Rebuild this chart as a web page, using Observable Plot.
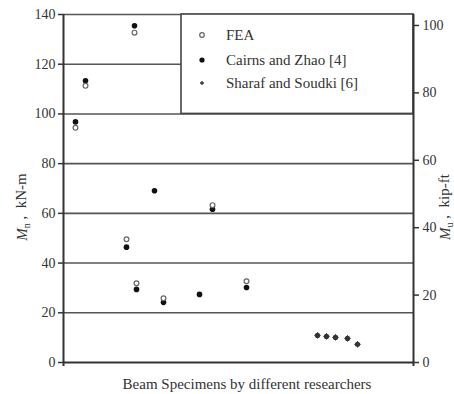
<!DOCTYPE html>
<html>
<head>
<meta charset="utf-8">
<script src="https://cdn.jsdelivr.net/npm/d3@7"></script>
<script src="https://cdn.jsdelivr.net/npm/@observablehq/plot@0.6"></script>
<style>
  html, body { margin: 0; padding: 0; background: white; }
  #chart { width: 454px; height: 394px; overflow: hidden; }
</style>
</head>
<body>
<div id="chart"></div>
<script>
// Specimen position along the x axis (unitless ordering) and moment values in kN-m
const feaX = [1.2, 2.2, 7.1, 6.3, 7.3, 10.0, 14.9, 18.3];
const feaM = [94.4, 111.3, 132.7, 49.6, 31.9, 25.8, 63.3, 32.7];
const cairnsX = [1.2, 2.2, 7.1, 6.3, 7.3, 9.1, 10.0, 13.6, 14.9, 18.3];
const cairnsM = [96.8, 113.3, 135.5, 46.4, 29.4, 69.1, 24.2, 27.4, 61.7, 30.2];
const sharafX = [25.4, 26.3, 27.2, 28.4, 29.4];
const sharafM = [10.9, 10.5, 10.1, 9.7, 7.3];

const leftTicks = [0, 20, 40, 60, 80, 100, 120, 140];   // kN-m
const rightTicks = [0, 20, 40, 60, 80, 100];             // kip-ft
const gridLines = [20, 40, 60, 80, 100, 140];
const legendLabels = ["FEA", "Cairns and Zhao [4]", "Sharaf and Soudki [6]"];
const KIPFT = 1.35582; // kN-m per kip-ft

const fea = feaX.map((x, i) => ({x, m: feaM[i]}));
const cairns = cairnsX.map((x, i) => ({x, m: cairnsM[i]}));
const sharaf = sharafX.map((x, i) => ({x, m: sharafM[i]}));

const serif = '"Liberation Serif", "Times New Roman", serif';
const ink = "#333";

const chart = Plot.plot({
  width: 454,
  height: 394,
  marginLeft: 63,
  marginRight: 41,
  marginTop: 14,
  marginBottom: 32,
  style: {fontFamily: serif, fontSize: "14px", color: ink, background: "white", overflow: "visible"},
  x: {domain: [0, 35], axis: null},
  y: {domain: [0, 140], axis: null},
  marks: [
    Plot.ruleY(gridLines, {stroke: "#555", strokeWidth: 1.6}),
    Plot.ruleY([120], {x1: 0, x2: 11.8, stroke: "#555", strokeWidth: 1.4}),
    Plot.rect([0], {x1: 11.8, x2: 35, y1: 100, y2: 140, fill: "white", stroke: "#444", strokeWidth: 1.6}),
    Plot.axisY({anchor: "left", ticks: leftTicks, tickSize: 5, tickPadding: 3, label: null, strokeWidth: 1.5, fontSize: 14}),
    Plot.axisY({anchor: "right", ticks: rightTicks.map(k => k * KIPFT), tickFormat: d => Math.round(d / KIPFT),
      tickSize: 5, tickPadding: 4, label: null, strokeWidth: 1.5, fontSize: 14}),
    Plot.ruleX([0, 35], {stroke: ink, strokeWidth: 2, insetBottom: -4}),
    Plot.ruleY([0], {stroke: ink, strokeWidth: 2}),
    Plot.dot(cairns, {x: "x", y: "m", r: 2.8, fill: "#111", stroke: "none"}),
    Plot.dot(fea, {x: "x", y: "m", r: 2.4, fill: "white", stroke: "#666", strokeWidth: 1.2}),
    Plot.dot(sharaf, {x: "x", y: "m", r: 2.6, fill: "#333", stroke: "none"}),
    Plot.dot(sharaf, {x: "x", y: "m", r: 2.2, symbol: "plus", stroke: "#333", strokeWidth: 1})
  ]
});

document.getElementById("chart").appendChild(chart);

const svg = d3.select(chart);
// Legend
const lg = svg.append("g").attr("font-family", serif).attr("font-size", 15).attr("fill", ink).attr("text-anchor", "start");
const ly = [35, 60, 83];
lg.append("circle").attr("cx", 202).attr("cy", ly[0]).attr("r", 2.3).attr("fill", "white").attr("stroke", "#666").attr("stroke-width", 1.2);
lg.append("circle").attr("cx", 202).attr("cy", ly[1]).attr("r", 2.6).attr("fill", "#111");
lg.append("path").attr("d", `M200,${ly[2]}h4M202,${ly[2]-2}v4`).attr("stroke", "#333").attr("stroke-width", 1.3);
legendLabels.forEach((t, i) => {
  lg.append("text").attr("x", 226).attr("y", ly[i]).attr("dy", "0.35em").attr("text-anchor", "start").text(t);
});

// X label
svg.append("text").attr("x", 247).attr("y", 384).attr("dy", "0.35em").attr("text-anchor", "middle")
  .attr("font-family", serif).attr("font-size", 15).attr("fill", ink)
  .text("Beam Specimens by different researchers");

// Left y label
const yl = svg.append("text").attr("transform", "translate(27,207) rotate(-90)").attr("text-anchor", "middle")
  .attr("font-family", serif).attr("font-size", 15).attr("fill", ink);
yl.append("tspan").attr("font-style", "italic").text("M");
yl.append("tspan").attr("font-size", 10).attr("dy", "0.3em").text("n");
yl.append("tspan").attr("dy", "-0.3em").text(" ,  kN-m");

// Right y label
const yr = svg.append("text").attr("transform", "translate(450,207) rotate(-90)").attr("text-anchor", "middle")
  .attr("font-family", serif).attr("font-size", 15).attr("fill", ink);
yr.append("tspan").attr("font-style", "italic").text("M");
yr.append("tspan").attr("font-size", 10).attr("dy", "0.3em").text("u");
yr.append("tspan").attr("dy", "-0.3em").text(" ,  kip-ft");
</script>
</body>
</html>
